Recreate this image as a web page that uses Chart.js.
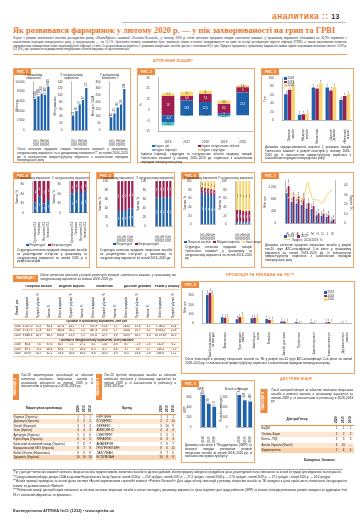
<!DOCTYPE html>
<html lang="uk">
<head>
<meta charset="utf-8">
<title>Аналітика 13</title>
<script src="https://cdn.jsdelivr.net/npm/chart.js@4.4.1/dist/chart.umd.min.js"></script>
<style>
  html, body { margin: 0; padding: 0; background: #fff; }
  #page { position: relative; width: 360px; height: 530px; overflow: hidden; font-family: 'Liberation Sans', Arial, sans-serif; color: #222; }
  .a { position: absolute; }
  .box { position: absolute; border: 0.8px solid #f1a468; box-sizing: border-box; }
  .tab { position: absolute; left: 0; top: 0; background: #ef8a3c; color: #fff; font-weight: bold; font-size: 3.4px; line-height: 6px; padding: 0 3px; }
  .vtab { position: absolute; background: #ef8a3c; color: #fff; font-weight: bold; font-size: 3.2px; writing-mode: vertical-rl; transform: rotate(180deg); text-align: center; }
  .cap { position: absolute; font-size: 3.1px; line-height: 3.8px; text-align: justify; color: #222; }
  canvas { position: absolute; }
  .sec { position: absolute; color: #e97c2a; font-weight: bold; font-size: 3.6px; letter-spacing: 0.3px; white-space: nowrap; }
  .lg { position: absolute; font-size: 3px; line-height: 4px; white-space: nowrap; color: #333; }
  .lg span { display: inline-block; margin-right: 3px; }
  .lg i { display: inline-block; width: 2.6px; height: 2.6px; margin-right: 1px; vertical-align: -0.3px; }
  .t1 { position: absolute; border-collapse: collapse; table-layout: fixed; font-size: 2.9px; line-height: 3.6px; }
  .t1 td, .t1 th { padding: 0; text-align: center; border-bottom: 0.5px solid #f4c7a2; white-space: nowrap; overflow: hidden; }
  .t1 th { font-weight: bold; }
  .rot { writing-mode: vertical-rl; transform: rotate(180deg); height: 28px; display: inline-block; white-space: normal; text-align: left; font-weight: normal; }
  .t1 .sub td { font-weight: bold; font-style: italic; }
  .rk { position: absolute; border-collapse: collapse; table-layout: fixed; font-size: 3px; line-height: 4.5px; }
  .rk td, .rk th { padding: 0 0.5px; white-space: nowrap; overflow: hidden; }
  .rk td { text-align: center; }
  .rk td:first-child { text-align: left; }
  .rk tbody tr:nth-child(even) { background: #fde6d2; }
  .rk tbody tr:last-child { background: #fbd2ae; }
  .rk thead th { border-bottom: 0.6px solid #ef8a3c; font-weight: bold; }
  .rk .rot { height: 10px; font-weight: bold; }
</style>
</head>
<body>
<div id="page">
  <div class="a" style="left:272px;top:11px;font-size:8.5px;font-weight:bold;color:#e97c2a;letter-spacing:0.4px;">аналитика :: <span style="color:#333;font-size:7px;">13</span></div>
  <div class="a" style="left:122px;top:22px;width:224px;height:0.6px;background:#bdbdbd;"></div>
  <div class="a" style="left:13px;top:26px;width:340px;font-family:'Liberation Serif',serif;font-weight:bold;font-size:8.4px;color:#e8762b;white-space:nowrap;">Як розвивався фармринок у лютому 2020 р. — у пік захворюваності на грип та ГРВІ</div>
  <div class="cap" style="left:13px;top:37px;width:334px;font-family:'Liberation Serif',serif;font-size:3.2px;line-height:3.8px;">Згідно з даними аналітичної системи дослідження ринку «PharmXplorer» компанії «Proxima Research», у лютому 2020 р. обсяг аптечних продажів товарів «аптечного кошика» у грошовому вираженні збільшився на 26,9% порівняно з аналогічним періодом попереднього року, у натуральному — на 11,1%. Зростання попиту споживачів було зумовлене піком сезонної захворюваності на грип та гострі респіраторні вірусні інфекції (ГРВІ), а також ажіотажним попитом, спричиненим поширенням нової коронавірусної інфекції у світі. Середньозважена вартість 1 упаковки лікарських засобів зросла і становила 80,5 грн. Приріст продажів у грошовому вираженні майже вдвічі перевищив показник лютого 2019 р. (11,8%), що зумовлено підвищенням натуральних обсягів продажу та зростанням цін.</div>
  <div class="a" style="left:13px;top:54px;width:334px;height:0.8px;background:#f0a060;"></div>

  <div class="sec" style="left:153px;top:59px;">АПТЕЧНИЙ КОШИК*</div>

  <!-- РИС. 1 -->
  <div class="box" style="left:13px;top:68px;width:118px;height:95px;">
    <div class="tab">РИС. 1</div>
    <canvas id="f1a" width="38" height="74" style="left:1px;top:4px;"></canvas>
    <canvas id="f1b" width="38" height="74" style="left:39px;top:4px;"></canvas>
    <canvas id="f1c" width="38" height="74" style="left:77px;top:4px;"></canvas>
    <div class="cap" style="left:3px;top:79px;width:111px;">Обсяг аптечних продажів товарів «аптечного кошика» у грошовому, натуральному вираженні та в доларовому еквіваленті** за лютий 2016–2020 рр. із зазначенням приросту/убутку порівняно з аналогічним періодом попереднього року</div>
  </div>

  <!-- РИС. 2 -->
  <div class="box" style="left:137px;top:68px;width:118px;height:95px;">
    <div class="tab">РИС. 2</div>
    <canvas id="f2" width="115" height="70" style="left:1px;top:6px;"></canvas>
    <div class="lg" id="lg2" style="left:14px;top:75px;width:100px;white-space:normal;"></div>
    <div class="cap" style="left:3px;top:84px;width:111px;">Індекси інфляції, структури та натуральних обсягів продажу товарів «аптечного кошика» у лютому 2016–2020 рр. порівняно з аналогічним періодом попереднього року</div>
  </div>

  <!-- РИС. 3 -->
  <div class="box" style="left:261px;top:68px;width:93px;height:95px;">
    <div class="tab">РИС. 3</div>
    <canvas id="f3" width="90" height="70" style="left:1px;top:6px;"></canvas>
    <div class="lg" id="lg3" style="left:22px;top:8px;line-height:3.4px;"></div>
    <div class="cap" style="left:3px;top:77px;width:86px;">Динаміка середньозваженої вартості 1 упаковки товарів «аптечного кошика» в розрізі категорій у лютому 2018–2020 рр. із зазначенням приросту/убутку порівняно з аналогічним періодом попереднього року</div>
  </div>

  <!-- РИС. 4 -->
  <div class="box" style="left:13px;top:172px;width:77px;height:96px;">
    <div class="tab">РИС. 4</div>
    <canvas id="f4a" width="38" height="68" style="left:1px;top:3px;"></canvas>
    <canvas id="f4b" width="38" height="68" style="left:38px;top:3px;"></canvas>
    <div class="lg" id="lg4" style="left:12px;top:70px;"></div>
    <div class="cap" style="left:3px;top:76px;width:70px;">Структура аптечних продажів лікарських засобів за рецептурним статусом у грошовому та натуральному вираженні за лютий 2020 р. в розрізі категорій</div>
  </div>

  <!-- РИС. 5 -->
  <div class="box" style="left:96px;top:172px;width:79px;height:96px;">
    <div class="tab">РИС. 5</div>
    <canvas id="f5a" width="39" height="67" style="left:1px;top:3px;"></canvas>
    <canvas id="f5b" width="39" height="67" style="left:39px;top:3px;"></canvas>
    <div class="lg" id="lg5" style="left:16px;top:69px;"></div>
    <div class="cap" style="left:3px;top:76px;width:72px;">Структура аптечних продажів лікарських засобів за рецептурним статусом у грошовому та натуральному вираженні за лютий 2016–2020 рр.</div>
  </div>

  <!-- РИС. 6 -->
  <div class="box" style="left:181px;top:172px;width:74px;height:96px;">
    <div class="tab">РИС. 6</div>
    <canvas id="f6a" width="36" height="65" style="left:1px;top:3px;"></canvas>
    <canvas id="f6b" width="36" height="65" style="left:36px;top:3px;"></canvas>
    <div class="lg" id="lg6" style="left:2px;top:67px;"></div>
    <div class="cap" style="left:3px;top:73px;width:67px;">Структура аптечних продажів товарів «аптечного кошика» у грошовому та натуральному вираженні за лютий 2016–2020 рр.</div>
  </div>

  <!-- РИС. 7 -->
  <div class="box" style="left:261px;top:172px;width:93px;height:96px;">
    <div class="tab">РИС. 7</div>
    <canvas id="f7" width="90" height="59" style="left:1px;top:5px;"></canvas>
    <div class="lg" id="lg7" style="left:22px;top:62px;width:60px;white-space:normal;line-height:3.4px;"></div>
    <div class="cap" style="left:3px;top:71px;width:86px;">Динаміка аптечних продажів лікарських засобів у розрізі топ-10 груп АТС-класифікації 1-го рівня у грошовому вираженні за лютий 2019–2020 рр. із зазначенням приросту/убутку порівняно з аналогічним періодом попереднього року</div>
  </div>

  <!-- ТАБЛИЦЯ 1 -->
  <div class="tab" style="left:13px;top:275px;line-height:6.5px;">ТАБЛИЦЯ 1</div>
  <div class="cap" style="left:40px;top:274px;width:136px;font-style:italic;">Обсяг аптечних продажів у розрізі категорій товарів «аптечного кошика» у грошовому та натуральному вираженні за лютий 2018–2020 рр.</div>
  <table class="t1" id="t1" style="left:13px;top:285px;width:163px;"></table>

  <div class="sec" style="left:226px;top:273px;">ПРОМОЦІЯ ТА РЕКЛАМА НА ТБ***</div>

  <!-- РИС. 8 -->
  <div class="box" style="left:181px;top:281px;width:174px;height:93px;">
    <div class="tab">РИС. 8</div>
    <canvas id="f8" width="170" height="69" style="left:1px;top:6px;"></canvas>
    <div class="lg" id="lg8" style="left:142px;top:9px;line-height:3.4px;"></div>
    <div class="cap" style="left:3px;top:76px;width:167px;">Обсяг інвестицій в рекламу лікарських засобів на ТБ у розрізі топ-10 груп АТС-класифікації 2-го рівня за лютий 2018–2020 рр. із зазначенням приросту/убутку порівняно з аналогічним періодом попереднього року</div>
  </div>

  <!-- ТАБЛИЦЯ 2 -->
  <div class="vtab" style="left:13px;top:374px;width:6px;height:26px;">ТАБЛИЦЯ 2</div>
  <div class="cap" style="left:21px;top:374px;width:72px;font-style:italic;">Топ-10 маркетуючих організацій за обсягом аптечних продажів лікарських засобів у грошовому вираженні за лютий 2020 р. із зазначенням їх рейтингу в 2018–2019 рр.</div>
  <table class="rk" id="t2" style="left:13px;top:402px;width:80px;"></table>

  <!-- ТАБЛИЦЯ 3 -->
  <div class="vtab" style="left:96px;top:374px;width:6px;height:26px;">ТАБЛИЦЯ 3</div>
  <div class="cap" style="left:104px;top:374px;width:72px;font-style:italic;">Топ-10 брендів лікарських засобів за обсягом аптечних продажів у грошовому вираженні за лютий 2020 р. із зазначенням їх рейтингу в 2018–2019 рр.</div>
  <table class="rk" id="t3" style="left:96px;top:402px;width:80px;"></table>

  <div class="sec" style="left:280px;top:377px;">ДИСТРИБ'ЮЦІЯ</div>

  <!-- РИС. 9 -->
  <div class="box" style="left:181px;top:380px;width:74px;height:83px;">
    <div class="tab">РИС. 9</div>
    <canvas id="f9a" width="36" height="57" style="left:1px;top:6px;"></canvas>
    <canvas id="f9b" width="36" height="57" style="left:37px;top:6px;"></canvas>
    <div class="cap" style="left:3px;top:63px;width:67px;">Динаміка контактів з ТБ-аудиторією (GRP) та кількості виходів рекламних роликів лікарських засобів за лютий 2018–2020 рр. із зазначенням приросту/убутку</div>
  </div>

  <!-- ТАБЛИЦЯ 4 -->
  <div class="vtab" style="left:261px;top:389px;width:6.5px;height:24px;">ТАБЛИЦЯ 4</div>
  <div class="cap" style="left:271px;top:389px;width:82px;font-style:italic;">Топ-5 дистриб'юторів за обсягом поставок лікарських засобів в аптечні заклади в грошовому вираженні за лютий 2020 р. із зазначенням їх рейтингу в 2018–2019 рр.</div>
  <table class="rk" id="t4" style="left:261px;top:413px;width:93px;line-height:5.4px;"></table>

  <div class="a" style="left:304px;top:458px;font-size:3.6px;font-weight:bold;font-style:italic;font-family:'Liberation Serif',serif;">Катерина Зінченко</div>

  <div class="a" style="left:13px;top:469px;width:330px;height:0.5px;background:#aaa;"></div>
  <div class="cap" style="left:13px;top:470px;width:334px;font-size:2.9px;line-height:4.5px;">*Тут і далі до «аптечного кошика» належать лікарські засоби, медичні вироби, косметичні засоби та дієтичні добавки; обсяги продажу наведено в роздрібних цінах, рецептурний статус визначено на основі інструкції для медичного застосування.<br>**Середньозважений курс долара США за даними Національного банку України: лютий 2016 р. — 25,6 грн/дол.; лютий 2017 р. — 27,2 грн/дол.; лютий 2018 р. — 27,0 грн/дол.; лютий 2019 р. — 27,2 грн/дол.; лютий 2020 р. — 24,6 грн/дол.<br>***Аналіз промоції проведено на основі даних системи «Аналіз маркетингових стратегій» компанії «Proxima Research». Дані щодо обсягу інвестицій у рекламу лікарських засобів на ТБ наведено в цінах прайс-листа телеканалів без урахування знижок, за даними компанії «Nielsen».<br>****Рейтингові позиції дистриб'юторів визначено за обсягом поставок лікарських засобів в аптечні заклади у грошовому вираженні в цінах закупівлі; дані щодо рейтингів (GRP) та кількості виходів рекламних роликів наведено за аудиторією «всі 18+», загальний ефірний час не враховано.</div>
  <div class="a" style="left:13px;top:508px;font-size:4px;font-weight:bold;color:#333;">Еженедельник АПТЕКА №11 (1232) • www.apteka.ua</div>
</div>

<script>
  const BLUE = "#1f62ab";
  const RED = "#9e1f4f";
  const YELLOW = "#f7d56a";
  const TEAL = "#52c3c6";

  // РИС. 1
  const fig1Years = ["2016", "2017", "2018", "2019", "2020"];
  const fig1Uah = [6500, 7000, 7500, 7300, 9000];
  const fig1Packs = [43, 56, 74, 87, 122];
  const fig1Usd = [95, 122, 165, 185, 298];

  // РИС. 2
  const fig2Years = ["2016", "2017", "2018", "2019", "2020"];
  const fig2Price = [-6.3, 13.8, 12.5, 2.0, 21.3];
  const fig2Volume = [18.0, 4.3, 7.5, 8.5, 5.0];
  const fig2Inflation = [-3.2, -0.7, -0.3, -1.3, 0];
  const fig2Structure = [2.7, 4.0, 3.0, 3.3, 1.8];

  // РИС. 3
  const fig3Cats = [["Лікарські", "засоби"], ["Медичні", "вироби"], ["Косметика"], ["Дієтичні", "добавки"], ["«Аптечний", "кошик»"]];
  const fig3Y2018 = [61, 13, 77, 77, 48];
  const fig3Y2019 = [72, 14, 75, 70, 57];
  const fig3Y2020 = [83, 16, 87, 79, 61];

  // РИС. 4
  const fig4Cats = ["Оригінальні ЛЗ", "Генерики", "Вітчизняні ЛЗ", "Іноземні ЛЗ"];
  const fig4RxUah = [32, 52, 30, 41];
  const fig4OtcUah = [68, 48, 70, 59];
  const fig4RxPacks = [61, 70, 63, 70];
  const fig4OtcPacks = [39, 30, 37, 30];

  // РИС. 5
  const fig5Years = ["2016", "2017", "2018", "2019", "2020"];
  const fig5RxUah = [34, 34, 36, 39, 40];
  const fig5OtcUah = [66, 66, 64, 61, 60];
  const fig5RxPacks = [64, 65, 64, 65, 64];
  const fig5OtcPacks = [36, 35, 36, 35, 36];

  // РИС. 6
  const fig6Years = ["2016", "2017", "2018", "2019", "2020"];
  const fig6DrugsUah = [73, 71, 70, 68, 68];
  const fig6DevicesUah = [13, 13, 13, 13, 11];
  const fig6OtherUah = [14, 16, 17, 19, 21];
  const fig6DrugsPacks = [5, 6, 5, 5, 6];
  const fig6DevicesPacks = [28, 27, 26, 25, 25];
  const fig6OtherPacks = [67, 67, 69, 70, 69];

  // РИС. 7
  const fig7Groups = ["R", "N", "A", "J", "C", "M", "G", "D", "L", "B"];
  const fig7Y2019 = [994, 700, 658, 602, 490, 476, 266, 252, 210, 84];
  const fig7Y2020 = [1232, 882, 882, 854, 672, 574, 336, 322, 266, 140];
  const fig7Growth = [26, 32, 27, 23, 44, 25, 25, 21, 31, 36];

  // РИС. 8
  const fig8Groups = [["Засоби від кашлю", "та застуди"], ["Аналгетики"], ["Противірусні", "засоби"], ["Засоби для", "горла"], ["Вітаміни"], ["Засоби для носа"], ["Пробіотики"], ["Засоби від печії"], ["Гепатопротектори"], ["Дерматологічні", "засоби"]];
  const fig8Y2018 = [305, 67, 46, 55, 49, 21, 15, 12, 12, 2];
  const fig8Y2019 = [330, 61, 67, 61, 37, 21, 9, 9, 15, 3];
  const fig8Y2020 = [305, 61, 85, 67, 37, 15, 6, 9, 12, 9];

  // РИС. 9
  const fig9Years = ["2018", "2019", "2020"];
  const fig9Grp = [640, 470, 410];
  const fig9Spots = [1610, 1350, 1280];

  // ТАБЛИЦЯ 1
  const t1Groups = ["Лікарські засоби", "Медичні вироби", "Косметика", "Дієтичні добавки", "Разом у кошику"];
  const t1Years = ["2018", "2019", "2020"];
  const t1Uah = [
    ["6 057,0", "15,5", "84,4", "517,6", "24,2", "7,1", "371,9", "31,8", "5,1", "234,5", "15,8", "3,1", "7 180,2", "25,4"],
    ["6 747,9", "12,8", "83,7", "584,4", "16,2", "7,4", "467,3", "25,8", "5,7", "234,6", "19,7", "3,1", "8 034,2", "11,8"],
    ["8 848,6", "30,1", "88,2", "656,8", "13,5", "7,5", "371,6", "22,7", "3,8", "316,9", "30,2", "3,4", "10 193,8", "26,9"]
  ];
  const t1Packs = [
    ["86,4", "7,6", "67,6", "36,7", "2,1", "27,2", "6,1", "11,6", "4,6", "8,7", "−1,9", "2,6", "132,9", "6,2"],
    ["89,5", "−6,1", "64,6", "39,4", "7,3", "28,0", "6,5", "6,5", "4,8", "9,7", "1,8", "2,7", "136,1", "−1,5"],
    ["109,9", "14,7", "62,2", "53,6", "26,6", "30,3", "8,6", "20,0", "4,9", "6,5", "23,6", "2,8", "186,9", "11,1"]
  ];

  // ТАБЛИЦІ 2–4
  const rankYears = ["2020", "2019", "2018"];
  const t2Names = ["Фармак (Україна)", "Дарниця (Україна)", "Sanofi (Франція)", "Teva (Ізраїль)", "Артеріум (Україна)", "Юрія-Фарм (Україна)", "Київський вітамінний завод (Україна)", "Борщагівський ХФЗ (Україна)", "Berlin-Chemie (Німеччина)", "Здоров'я (Україна)"];
  const t2Ranks = [[1, 1, 1], [2, 2, 2], [3, 3, 4], [4, 4, 3], [5, 5, 6], [6, 6, 5], [7, 8, 7], [8, 7, 9], [9, 9, 8], [10, 10, 10]];
  const t3Names = ["НУРОФЕН", "КОЛДРЕКС", "ФЕРВЕКС", "АМІКСИН ІС", "СИНУПРЕТ", "ТЕРАФЛЮ", "АНАФЕРОН", "ГРОПРИНОЗИН", "ЛАЗОЛВАН", "ЕСПУМІЗАН"];
  const t3Ranks = [[1, 1, 1], [2, 2, 10], [3, 10, 8], [4, 4, 4], [5, 5, 5], [6, 3, 3], [7, 9, 7], [8, 6, 15], [9, 7, 6], [10, 8, 9]];
  const t4Names = ["БаДМ", "Оптіма-Фарм", "Вента. ЛТД", "Альба Україна (Фалбі)", "Фармпланета"];
  const t4Ranks = [[1, 1, 1], [2, 2, 2], [3, 3, 3], [4, 10, "–"], [5, 4, 4]];

  Chart.defaults.font.family = "'Liberation Sans', Arial, sans-serif";
  Chart.defaults.font.size = 3;
  Chart.defaults.color = "#333";
  Chart.defaults.animation = false;
  Chart.defaults.responsive = false;
  Chart.defaults.plugins.legend.display = false;
  Chart.defaults.plugins.tooltip.enabled = false;

  function fmt(v) {
    let s = Math.abs(v) >= 1000 ? Math.round(v).toString().replace(/\B(?=(\d{3})+(?!\d))/g, " ") : v.toString();
    return s.replace(".", ",").replace("-", "−");
  }

  // підписи значень на стовпчиках
  const valueLabels = {
    id: "valueLabels",
    afterDatasetsDraw(chart, args, o) {
      if (!o || !o.mode) return;
      const ctx = chart.ctx;
      ctx.save();
      ctx.font = (o.size || 2.8) + "px 'Liberation Sans', sans-serif";
      chart.data.datasets.forEach((ds, i) => {
        const meta = chart.getDatasetMeta(i);
        if (meta.type === "line") return;
        meta.data.forEach((bar, j) => {
          const v = ds.data[j];
          if (v === null || v === undefined || v === 0) return;
          const t = fmt(v);
          ctx.save();
          if (o.mode === "top") {
            const up = v >= 0;
            ctx.fillStyle = "#333";
            ctx.translate(bar.x, up ? bar.y - 0.8 : bar.y + 0.8);
            ctx.rotate(-Math.PI / 2);
            ctx.textAlign = up ? "left" : "right";
            ctx.textBaseline = "middle";
            ctx.fillText(t, 0, 0);
          } else {
            ctx.fillStyle = o.dark && o.dark.includes(i) ? "#333" : "#fff";
            ctx.translate(bar.x, (bar.y + bar.base) / 2);
            if (o.rotate) ctx.rotate(-Math.PI / 2);
            ctx.textAlign = "center";
            ctx.textBaseline = "middle";
            ctx.fillText(t, 0, 0);
          }
          ctx.restore();
        });
      });
      ctx.restore();
    }
  };
  Chart.register(valueLabels);

  function yScale(min, max, step, title, more) {
    return Object.assign({
      min: min,
      max: max,
      grid: { display: false },
      border: { display: true, color: "#777", width: 0.5 },
      ticks: { stepSize: step, padding: 1, callback: v => fmt(v) },
      title: { display: !!title, text: title || "", padding: 0.5 }
    }, more || {});
  }

  function xScale(rotate, more) {
    return Object.assign({
      grid: { display: false },
      border: { display: true, color: "#777", width: 0.5 },
      ticks: { padding: 1, autoSkip: false, maxRotation: rotate ? 90 : 0, minRotation: rotate ? 90 : 0 }
    }, more || {});
  }

  function subTitle(text) {
    return { display: true, text: text, padding: { top: 0, bottom: 1.5 }, font: { size: 3, weight: "normal" }, color: "#333" };
  }

  function legend(id, items) {
    document.getElementById(id).innerHTML = items
      .map(it => '<span><i style="background:' + it[0] + '"></i>' + it[1] + "</span>")
      .join("");
  }

  function simpleBars(id, title, yTitle, labels, values, max, step) {
    new Chart(document.getElementById(id), {
      type: "bar",
      data: { labels: labels, datasets: [{ data: values, backgroundColor: BLUE, categoryPercentage: 0.85, barPercentage: 0.8 }] },
      options: {
        layout: { padding: { top: 0, right: 1 } },
        plugins: { title: subTitle(title), valueLabels: { mode: "top", size: 2.6 } },
        scales: { x: xScale(true), y: yScale(0, max, step, yTitle) }
      }
    });
  }

  function shareBars(id, title, labels, sets) {
    new Chart(document.getElementById(id), {
      type: "bar",
      data: {
        labels: labels,
        datasets: sets.map(s => ({ label: s[0], data: s[2], backgroundColor: s[1], categoryPercentage: 0.85, barPercentage: 0.75 }))
      },
      options: {
        layout: { padding: { top: 0, right: 1 } },
        plugins: { title: subTitle(title), valueLabels: { mode: "center", rotate: true, size: 2.5, dark: [2] } },
        scales: {
          x: xScale(true, { stacked: true }),
          y: yScale(0, 100, 10, "Частка, %", { stacked: true })
        }
      }
    });
  }

  // РИС. 1
  simpleBars("f1a", ["У грошовому", "вираженні"], "Млн грн", fig1Years, fig1Uah, 10000, 1000);
  simpleBars("f1b", ["У натуральному", "вираженні"], "Млн упаковок", fig1Years, fig1Packs, 140, 20);
  simpleBars("f1c", ["У доларовому", "еквіваленті"], "Млн дол. США", fig1Years, fig1Usd, 350, 50);

  // РИС. 2
  new Chart(document.getElementById("f2"), {
    type: "bar",
    data: {
      labels: fig2Years,
      datasets: [
        { label: "Індекс цін", data: fig2Price, backgroundColor: BLUE },
        { label: "Індекс натуральних обсягів", data: fig2Volume, backgroundColor: RED },
        { label: "Індекс інфляції", data: fig2Inflation, backgroundColor: TEAL },
        { label: "Індекс структури", data: fig2Structure, backgroundColor: YELLOW }
      ]
    },
    options: {
      datasets: { bar: { categoryPercentage: 0.8, barPercentage: 0.85 } },
      layout: { padding: { top: 1, right: 2 } },
      plugins: { valueLabels: { mode: "center", dark: [2, 3], size: 2.6 } },
      scales: {
        x: xScale(false, { stacked: true }),
        y: yScale(-15, 35, 5, "%", { stacked: true })
      }
    }
  });
  legend("lg2", [[BLUE, "Індекс цін"], [RED, "Індекс натуральних обсягів"], [TEAL, "Індекс інфляції"], [YELLOW, "Індекс структури"]]);
  document.querySelectorAll("#lg2 span").forEach(s => { s.style.width = "46px"; s.style.marginRight = "0"; });

  // РИС. 3
  new Chart(document.getElementById("f3"), {
    type: "bar",
    data: {
      labels: fig3Cats,
      datasets: [
        { label: "2018", data: fig3Y2018, backgroundColor: BLUE },
        { label: "2019", data: fig3Y2019, backgroundColor: RED },
        { label: "2020", data: fig3Y2020, backgroundColor: YELLOW }
      ]
    },
    options: {
      datasets: { bar: { categoryPercentage: 0.8, barPercentage: 0.95 } },
      layout: { padding: { top: 2, right: 1 } },
      plugins: { valueLabels: { mode: "top", size: 2.5 } },
      scales: { x: xScale(true), y: yScale(0, 100, 10, "Грн") }
    }
  });
  legend("lg3", [[BLUE, "2018"], [RED, "2019"], [YELLOW, "2020"]]);
  document.querySelectorAll("#lg3 span").forEach(s => { s.style.display = "block"; });

  // РИС. 4–6
  shareBars("f4a", "У грошовому вираженні", fig4Cats, [["Рецептурні", BLUE, fig4RxUah], ["Безрецептурні", RED, fig4OtcUah]]);
  shareBars("f4b", "У натуральному вираженні", fig4Cats, [["Рецептурні", BLUE, fig4RxPacks], ["Безрецептурні", RED, fig4OtcPacks]]);
  legend("lg4", [[BLUE, "Рецептурні"], [RED, "Безрецептурні"]]);

  shareBars("f5a", "У грошовому вираженні", fig5Years, [["Рецептурні", BLUE, fig5RxUah], ["Безрецептурні", RED, fig5OtcUah]]);
  shareBars("f5b", "У натуральному вираженні", fig5Years, [["Рецептурні", BLUE, fig5RxPacks], ["Безрецептурні", RED, fig5OtcPacks]]);
  legend("lg5", [[BLUE, "Рецептурні"], [RED, "Безрецептурні"]]);

  shareBars("f6a", "У грошовому вираженні", fig6Years, [["Лікарські засоби", BLUE, fig6DrugsUah], ["Медичні вироби", RED, fig6DevicesUah], ["Інші товари", YELLOW, fig6OtherUah]]);
  shareBars("f6b", "У натуральному вираженні", fig6Years, [["Лікарські засоби", BLUE, fig6DrugsPacks], ["Медичні вироби", RED, fig6DevicesPacks], ["Інші товари", YELLOW, fig6OtherPacks]]);
  legend("lg6", [[BLUE, "Лікарські засоби"], [RED, "Медичні вироби"], [YELLOW, "Інші товари"]]);

  // РИС. 7
  new Chart(document.getElementById("f7"), {
    type: "bar",
    data: {
      labels: fig7Groups,
      datasets: [
        { type: "line", label: "Приріст, 2020/2019, %", data: fig7Growth, borderColor: YELLOW, borderWidth: 1, pointRadius: 0, yAxisID: "y2" },
        { label: "2019", data: fig7Y2019, backgroundColor: BLUE },
        { label: "2020", data: fig7Y2020, backgroundColor: RED }
      ]
    },
    options: {
      datasets: { bar: { categoryPercentage: 0.8, barPercentage: 0.9 } },
      layout: { padding: { top: 2 } },
      plugins: { valueLabels: { mode: "top", size: 2.4 } },
      scales: {
        x: xScale(false),
        y: yScale(0, 1400, 200, "Млн грн"),
        y2: yScale(0, 45, 5, "Приріст, %", { position: "right" })
      }
    }
  });
  legend("lg7", [[BLUE, "2019"], [RED, "2020"]]);
  document.getElementById("lg7").innerHTML += '<div><i style="width:6px;height:0.8px;background:' + YELLOW + ';vertical-align:1px;"></i> Приріст, 2020/2019, %</div>';

  // ТАБЛИЦЯ 1
  (function () {
    const heads = ["Обсяг продажів", "Приріст/ убуток, %", "Частка, %"];
    let html = '<colgroup><col style="width:9px">';
    for (let i = 0; i < 14; i++) html += '<col style="width:' + (i >= 12 ? 13 : 11) + 'px">';
    html += "</colgroup>";
    html += '<tr><th rowspan="2"><div class="rot" style="font-weight:bold">Лютий, рік</div></th>';
    t1Groups.forEach((g, i) => { html += '<th colspan="' + (i === 4 ? 2 : 3) + '" style="white-space:normal;font-size:3.2px;">' + g + "</th>"; });
    html += "</tr><tr>";
    t1Groups.forEach((g, i) => {
      heads.slice(0, i === 4 ? 2 : 3).forEach(h => { html += '<th><div class="rot">' + h + "</div></th>"; });
    });
    html += "</tr>";
    const block = (title, rows) => {
      html += '<tr class="sub"><td colspan="15">' + title + "</td></tr>";
      rows.forEach((r, k) => {
        html += "<tr><td>" + t1Years[k] + "</td>" + r.map(c => "<td>" + c + "</td>").join("") + "</tr>";
      });
    };
    block("Продажі в грошовому вираженні, млн грн", t1Uah);
    block("Продажі в натуральному вираженні, млн упаковок", t1Packs);
    document.getElementById("t1").innerHTML = html;
  })();

  function rankTable(id, head, names, ranks, nameW) {
    let html = '<colgroup><col style="width:' + nameW + 'px"><col><col><col></colgroup>';
    html += "<thead><tr><th>" + head + "</th>" + rankYears.map(y => '<th><div class="rot">' + y + "</div></th>").join("") + "</tr></thead><tbody>";
    names.forEach((n, i) => {
      html += "<tr><td>" + n + "</td>" + ranks[i].map(r => "<td>" + r + "</td>").join("") + "</tr>";
    });
    document.getElementById(id).innerHTML = html + "</tbody>";
  }
  rankTable("t2", "Маркетуюча організація", t2Names, t2Ranks, 62);
  rankTable("t3", "Бренд", t3Names, t3Ranks, 62);
  rankTable("t4", "Дистриб'ютор", t4Names, t4Ranks, 72);

  // РИС. 8
  new Chart(document.getElementById("f8"), {
    type: "bar",
    data: {
      labels: fig8Groups,
      datasets: [
        { label: "2018", data: fig8Y2018, backgroundColor: BLUE },
        { label: "2019", data: fig8Y2019, backgroundColor: RED },
        { label: "2020", data: fig8Y2020, backgroundColor: YELLOW }
      ]
    },
    options: {
      datasets: { bar: { categoryPercentage: 0.55, barPercentage: 0.95 } },
      layout: { padding: { top: 2, right: 2 } },
      plugins: { valueLabels: { mode: "top", size: 2.5 } },
      scales: { x: xScale(true), y: yScale(0, 350, 50, "Млн грн") }
    }
  });
  legend("lg8", [[BLUE, "2018"], [RED, "2019"], [YELLOW, "2020"]]);
  document.querySelectorAll("#lg8 span").forEach(s => { s.style.display = "block"; });

  // РИС. 9
  simpleBars("f9a", "GRP", "GRP", fig9Years, fig9Grp, 700, 100);
  simpleBars("f9b", "Кількість виходів", "Кількість виходів", fig9Years, fig9Spots, 1750, 250);
</script>
</body>
</html>
